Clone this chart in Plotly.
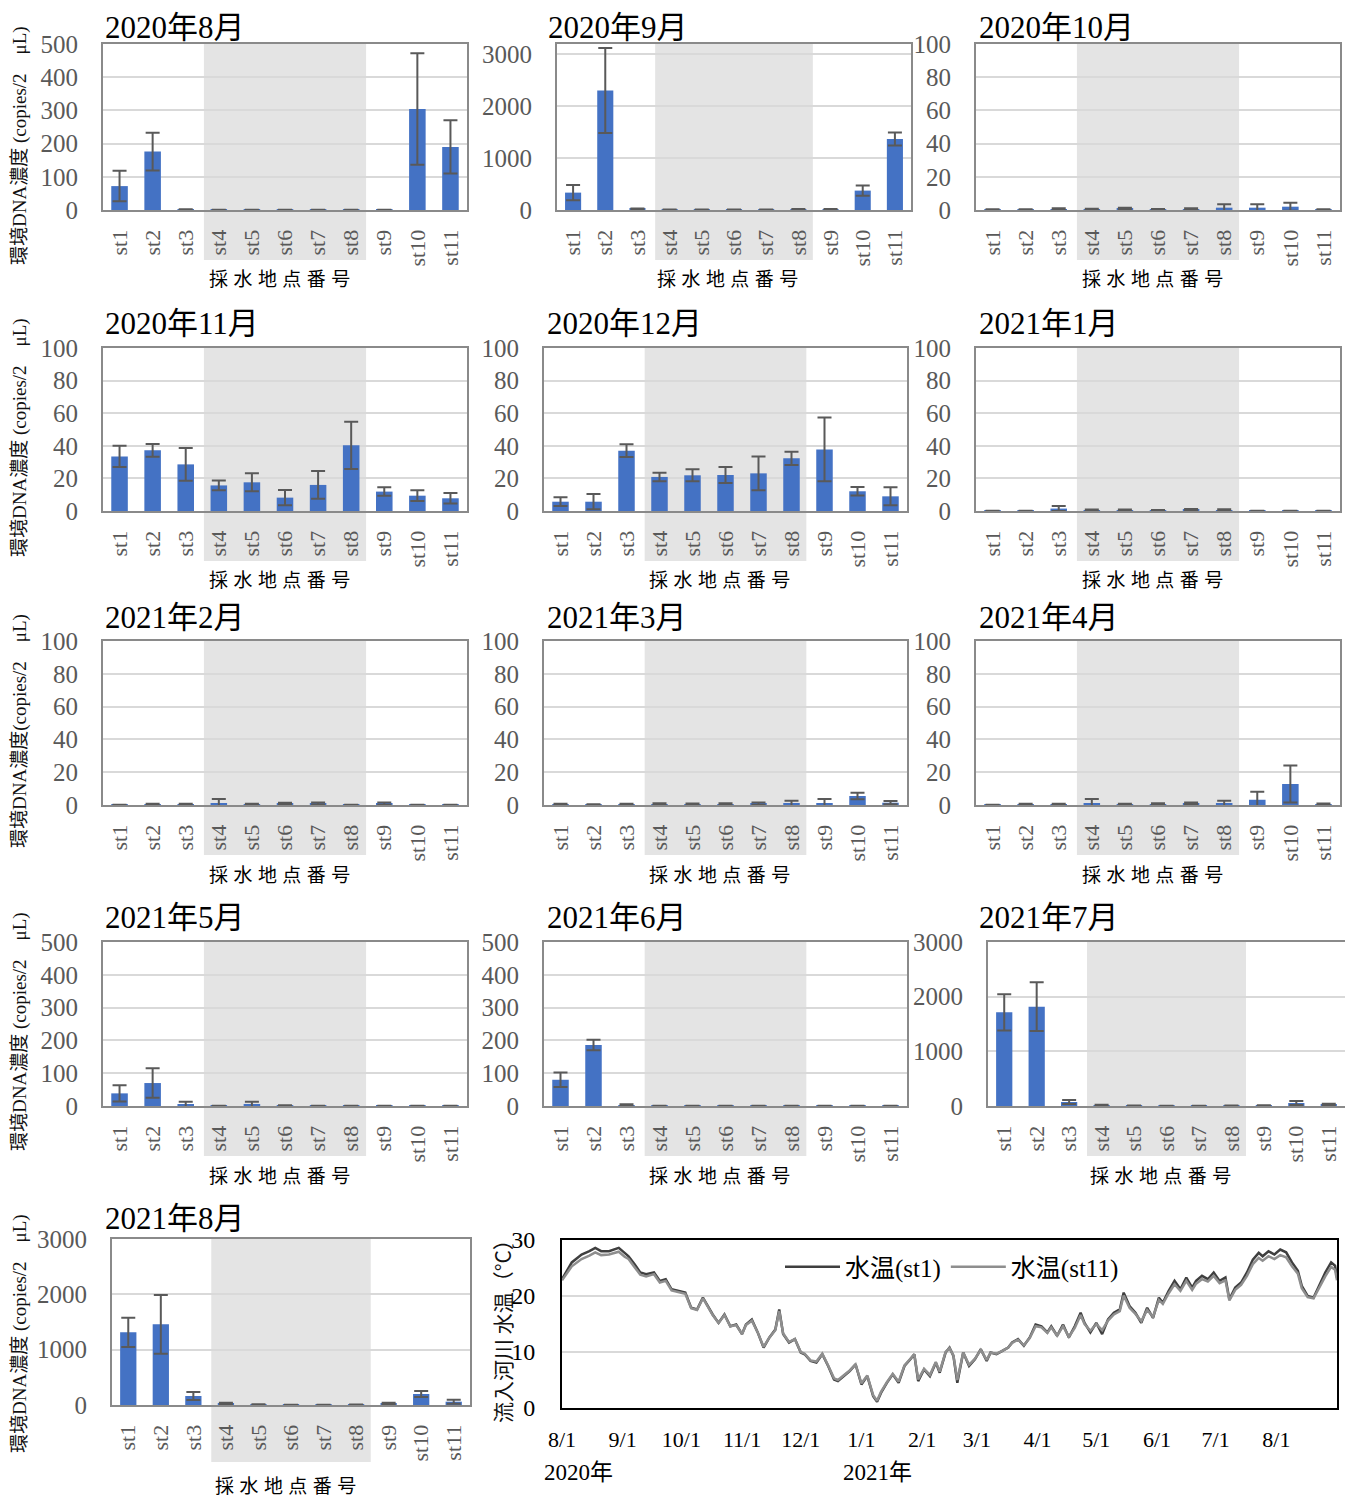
import plotly.graph_objects as go

# page body keeps its default 8px margin, so the figure is sized to fill the rest of the window
PAGE_W, PAGE_H, BODY = 1353, 1497, 8
W, H = PAGE_W - BODY, PAGE_H - BODY

# ---------------- data ----------------
stations = ["st1", "st2", "st3", "st4", "st5", "st6", "st7", "st8", "st9", "st10", "st11"]

month_titles = ["2020年8月", "2020年9月", "2020年10月", "2020年11月", "2020年12月", "2021年1月",
                "2021年2月", "2021年3月", "2021年4月", "2021年5月", "2021年6月", "2021年7月", "2021年8月"]

aug2020 = [72, 176, 1, 0.5, 0.5, 0.3, 0.3, 0.3, 0.5, 304, 190]
aug2020_err = [46, 57, 1, 0.5, 0.5, 0.3, 0.3, 0.3, 0.5, 168, 80]
sep2020 = [335, 2303, 20, 5, 5, 5, 5, 15, 15, 374, 1368]
sep2020_err = [145, 820, 8, 3, 3, 3, 3, 6, 6, 98, 125]
oct2020 = [0.2, 0.2, 0.6, 0.4, 0.8, 0.3, 0.5, 1.4, 1.4, 2.0, 0.2]
oct2020_err = [0.2, 0.3, 0.5, 0.4, 0.6, 0.3, 0.5, 2.0, 2.0, 2.4, 0.2]
nov2020 = [33.5, 37.2, 28.6, 15.7, 17.6, 8.2, 16.0, 40.3, 11.9, 9.4, 7.8]
nov2020_err = [6.5, 3.9, 10.0, 3.0, 5.5, 4.7, 8.5, 14.5, 2.6, 3.3, 3.2]
dec2020 = [5.7, 5.7, 37.0, 20.9, 21.9, 22.1, 23.1, 32.3, 37.8, 12.1, 9.0]
dec2020_err = [2.7, 4.7, 3.9, 2.6, 3.7, 4.9, 10.4, 4.1, 19.5, 2.6, 5.5]
jan2021 = [0.1, 0.1, 1.5, 0.5, 0.5, 0.3, 0.7, 0.6, 0.1, 0.1, 0.1]
jan2021_err = [0.1, 0.1, 1.5, 0.4, 0.4, 0.3, 0.5, 0.5, 0.1, 0.1, 0.1]
feb2021 = [0.1, 0.4, 0.4, 1.2, 0.4, 0.7, 0.9, 0.1, 0.8, 0.1, 0.1]
feb2021_err = [0.1, 0.4, 0.4, 2.4, 0.4, 0.6, 0.7, 0.1, 0.8, 0.1, 0.1]
mar2021 = [0.4, 0.2, 0.4, 0.6, 0.5, 0.6, 0.8, 0.8, 1.2, 5.5, 1.4]
mar2021_err = [0.3, 0.2, 0.4, 0.5, 0.4, 0.5, 0.8, 1.8, 2.4, 2.0, 1.0]
apr2021 = [0.1, 0.4, 0.4, 1.0, 0.4, 0.6, 1.0, 1.0, 3.2, 12.8, 0.5]
apr2021_err = [0.1, 0.3, 0.3, 2.6, 0.3, 0.5, 0.6, 1.6, 4.9, 11.3, 0.4]
may2021 = [38.5, 70, 5, 0.5, 5, 1, 0.5, 0.5, 0.5, 0.5, 0.5]
may2021_err = [25, 45, 8, 0.5, 8, 1, 0.5, 0.5, 0.5, 0.5, 0.5]
jun2021 = [80, 186, 3, 0.5, 0.5, 0.5, 0.5, 0.5, 0.5, 0.5, 0.5]
jun2021_err = [22, 16, 2, 0.5, 0.5, 0.5, 0.5, 0.5, 0.5, 0.5, 0.5]
jul2021 = [1713, 1817, 73, 15, 5, 3, 3, 5, 10, 55, 24]
jul2021_err = [330, 445, 37, 8, 3, 2, 2, 3, 5, 36, 19]
aug2021 = [1313, 1458, 163, 30, 10, 3, 3, 5, 30, 199, 60]
aug2021_err = [265, 530, 72, 10, 5, 2, 2, 3, 10, 54, 36]

ticks_500 = [0, 100, 200, 300, 400, 500]
ticks_100 = [0, 20, 40, 60, 80, 100]
ticks_3000 = [0, 1000, 2000, 3000]

temp_dates = [
    "2020-08-01", "2020-08-06", "2020-08-11", "2020-08-15", "2020-08-18", "2020-08-21", "2020-08-25", "2020-08-30",
    "2020-09-02", "2020-09-04", "2020-09-07", "2020-09-10", "2020-09-13", "2020-09-17", "2020-09-20", "2020-09-23",
    "2020-09-26", "2020-09-29", "2020-10-03", "2020-10-06", "2020-10-09", "2020-10-12", "2020-10-15", "2020-10-17",
    "2020-10-20", "2020-10-23", "2020-10-26", "2020-10-29", "2020-11-01", "2020-11-03", "2020-11-06", "2020-11-09",
    "2020-11-12", "2020-11-15", "2020-11-18", "2020-11-20", "2020-11-22", "2020-11-25", "2020-11-28", "2020-12-01",
    "2020-12-03", "2020-12-06", "2020-12-09", "2020-12-12", "2020-12-15", "2020-12-18", "2020-12-20", "2020-12-23",
    "2020-12-26", "2020-12-29", "2021-01-01", "2021-01-04", "2021-01-07", "2021-01-09", "2021-01-11", "2021-01-14",
    "2021-01-17", "2021-01-20", "2021-01-23", "2021-01-26", "2021-01-28", "2021-01-30", "2021-02-02", "2021-02-05",
    "2021-02-08", "2021-02-10", "2021-02-13", "2021-02-15", "2021-02-17", "2021-02-19", "2021-02-22", "2021-02-25",
    "2021-02-28", "2021-03-03", "2021-03-06", "2021-03-08", "2021-03-11", "2021-03-14", "2021-03-17", "2021-03-19",
    "2021-03-22", "2021-03-25", "2021-03-28", "2021-03-31", "2021-04-03", "2021-04-06", "2021-04-08", "2021-04-11",
    "2021-04-14", "2021-04-17", "2021-04-20", "2021-04-23", "2021-04-25", "2021-04-28", "2021-05-01", "2021-05-04",
    "2021-05-07", "2021-05-10", "2021-05-13", "2021-05-15", "2021-05-18", "2021-05-21", "2021-05-24", "2021-05-27",
    "2021-05-30", "2021-06-02", "2021-06-04", "2021-06-07", "2021-06-10", "2021-06-13", "2021-06-16", "2021-06-19",
    "2021-06-21", "2021-06-24", "2021-06-27", "2021-06-30", "2021-07-03", "2021-07-06", "2021-07-08", "2021-07-11",
    "2021-07-14", "2021-07-17", "2021-07-20", "2021-07-23", "2021-07-25", "2021-07-28", "2021-07-31", "2021-08-03",
    "2021-08-06", "2021-08-09", "2021-08-12", "2021-08-14", "2021-08-17", "2021-08-20", "2021-08-23", "2021-08-26",
    "2021-08-29", "2021-08-31", "2021-09-01",
]
temp_st1 = [
    23.0, 26.0, 27.4, 28.0, 28.6, 28.0, 28.0, 28.6,
    27.7, 27.1, 25.7, 24.2, 23.9, 24.2, 22.7, 23.0,
    21.2, 20.9, 20.6, 17.9, 17.6, 19.7, 17.9, 16.7,
    15.2, 16.7, 14.6, 14.9, 13.2, 14.9, 15.8, 13.5,
    10.8, 12.6, 14.0, 17.6, 13.2, 11.7, 12.3, 9.9,
    9.6, 8.4, 8.1, 9.6, 7.5, 5.1, 4.8, 5.7,
    6.6, 7.8, 4.2, 5.7, 2.1, 1.1, 2.7, 4.5,
    6.0, 4.5, 7.5, 8.7, 9.6, 4.8, 6.9, 5.7,
    8.1, 6.3, 9.9, 10.8, 9.3, 4.5, 9.9, 7.5,
    8.7, 10.5, 8.4, 9.9, 9.6, 10.2, 10.8, 11.7,
    12.3, 11.1, 12.6, 14.9, 14.6, 13.5, 14.6, 12.9,
    14.9, 12.6, 14.6, 17.0, 15.2, 13.5, 15.2, 13.2,
    15.8, 17.0, 17.6, 20.6, 18.2, 17.0, 15.2, 17.9,
    16.1, 19.7, 18.8, 20.9, 22.7, 21.2, 23.3, 21.5,
    22.7, 23.6, 23.0, 24.2, 22.7, 23.3, 19.4, 21.5,
    22.4, 24.2, 26.5, 27.7, 27.1, 28.0, 27.4, 28.3,
    27.8, 26.0, 24.5, 21.8, 20.0, 19.7, 22.1, 24.2,
    26.0, 25.4, 23.3,
]
temp_st11 = [
    22.8, 25.3, 26.6, 27.2, 27.8, 27.3, 27.4, 27.9,
    27.0, 26.6, 25.2, 23.8, 23.5, 23.9, 22.4, 22.7,
    21.0, 20.7, 20.4, 17.8, 17.5, 19.6, 17.8, 16.6,
    15.2, 16.6, 14.6, 14.8, 13.2, 14.8, 15.6, 13.5,
    10.9, 12.6, 13.9, 17.3, 13.3, 11.8, 12.3, 10.0,
    9.7, 8.5, 8.3, 9.7, 7.6, 5.3, 5.0, 5.8,
    6.7, 7.8, 4.4, 5.8, 2.3, 1.3, 2.9, 4.6,
    6.1, 4.7, 7.6, 8.8, 9.6, 5.1, 7.0, 5.9,
    8.2, 6.5, 10.0, 10.7, 9.4, 5.0, 9.9, 7.7,
    8.8, 10.4, 8.6, 9.9, 9.7, 10.2, 10.8, 11.6,
    12.2, 11.2, 12.5, 14.6, 14.4, 13.4, 14.4, 12.9,
    14.6, 12.7, 14.3, 16.6, 15.0, 13.8, 15.0, 13.9,
    15.6, 16.7, 17.3, 20.1, 17.9, 16.8, 15.5, 17.5,
    16.3, 19.3, 18.6, 20.5, 22.1, 20.9, 22.7, 21.1,
    22.2, 23.0, 22.6, 23.6, 22.3, 22.8, 19.2, 21.1,
    22.0, 23.6, 25.7, 26.8, 26.3, 27.1, 26.6, 27.3,
    26.9, 25.3, 24.0, 21.4, 19.8, 19.6, 21.6, 23.5,
    25.2, 24.7, 22.8,
]
temp_tick_dates = ["2020-08-01", "2020-09-01", "2020-10-01", "2020-11-01", "2020-12-01", "2021-01-01", "2021-02-01",
                   "2021-03-01", "2021-04-01", "2021-05-01", "2021-06-01", "2021-07-01", "2021-08-01"]
temp_tick_labels = ["8/1", "9/1", "10/1", "11/1", "12/1", "1/1", "2/1", "3/1", "4/1", "5/1", "6/1", "7/1", "8/1"]
temp_ticks = [0, 10, 20, 30]

# ---------------- layout helpers ----------------
SERIF = "Liberation Serif, Noto Sans CJK JP, serif"
CJK = "Noto Sans CJK JP, sans-serif"
BAR_COLOR = "#4472C4"
GRID = "#d9d9d9"
BOX = "#8a8a8a"
TICKC = "#595959"
XTITLE = "採 \u200a水 \u200a地 \u200a点 \u200a番 \u200a号"


def fx(px):
    return (px - BODY) / W


def fy(px):
    return 1 - (px - BODY) / H


panels = [
    dict(v=aug2020, e=aug2020_err, ymax=500, tv=ticks_500, box=(103, 44, 467, 210), title=(103, 27)),
    dict(v=sep2020, e=sep2020_err, ymax=3200, tv=ticks_3000, box=(557, 44, 911, 210), title=(546, 27)),
    dict(v=oct2020, e=oct2020_err, ymax=100, tv=ticks_100, box=(976, 44, 1340, 210), title=(977, 27)),
    dict(v=nov2020, e=nov2020_err, ymax=100, tv=ticks_100, box=(103, 348, 467, 511), title=(103, 323)),
    dict(v=dec2020, e=dec2020_err, ymax=100, tv=ticks_100, box=(544, 348, 907, 511), title=(545, 323)),
    dict(v=jan2021, e=jan2021_err, ymax=100, tv=ticks_100, box=(976, 348, 1340, 511), title=(977, 323)),
    dict(v=feb2021, e=feb2021_err, ymax=100, tv=ticks_100, box=(103, 641, 467, 805), title=(103, 617)),
    dict(v=mar2021, e=mar2021_err, ymax=100, tv=ticks_100, box=(544, 641, 907, 805), title=(545, 617)),
    dict(v=apr2021, e=apr2021_err, ymax=100, tv=ticks_100, box=(976, 641, 1340, 805), title=(977, 617)),
    dict(v=may2021, e=may2021_err, ymax=500, tv=ticks_500, box=(103, 942, 467, 1106), title=(103, 917)),
    dict(v=jun2021, e=jun2021_err, ymax=500, tv=ticks_500, box=(544, 942, 907, 1106), title=(545, 917)),
    dict(v=jul2021, e=jul2021_err, ymax=3000, tv=ticks_3000, box=(988, 942, 1345, 1106), title=(977, 917)),
    dict(v=aug2021, e=aug2021_err, ymax=3000, tv=ticks_3000, box=(112, 1239, 470, 1405), title=(103, 1218)),
]

ylabel_rows = [(146, "環境DNA濃度 (copies/2\u3000μL)"), (438, "環境DNA濃度 (copies/2\u3000μL)"),
               (731, "環境DNA濃度(copies/2\u3000μL)"), (1032, "環境DNA濃度 (copies/2\u3000μL)"),
               (1334, "環境DNA濃度 (copies/2\u3000μL)")]

fig = go.Figure()
layout = {}
shapes = []
annotations = []
n_cat = len(stations)

for i, p in enumerate(panels, start=1):
    l, t, r, b = p["box"]
    xa = "x" if i == 1 else f"x{i}"
    ya = "y" if i == 1 else f"y{i}"
    xk = "xaxis" if i == 1 else f"xaxis{i}"
    yk = "yaxis" if i == 1 else f"yaxis{i}"
    fig.add_trace(go.Bar(
        x=stations, y=p["v"],
        error_y=dict(type="data", array=p["e"], visible=True, color="#595959", thickness=2, width=7),
        marker=dict(color=BAR_COLOR, line=dict(width=0)), width=0.5,
        xaxis=xa, yaxis=ya, showlegend=False, hoverinfo="skip",
    ))
    layout[xk] = dict(
        domain=[fx(l), fx(r)], anchor=ya, type="category", range=[-0.5, n_cat - 0.5],
        tickangle=-90, tickfont=dict(family=SERIF, size=22, color=TICKC),
        showline=True, mirror=True, linecolor=BOX, linewidth=2, showgrid=False,
        ticks="", ticklabelstandoff=9, fixedrange=True, automargin=False,
    )
    layout[yk] = dict(
        domain=[fy(b), fy(t)], anchor=xa, range=[0, p["ymax"]], tickvals=p["tv"],
        showgrid=True, gridcolor=GRID, gridwidth=2, showline=True, mirror=True,
        linecolor=BOX, linewidth=2, zeroline=False,
        tickfont=dict(family=SERIF, size=25, color=TICKC), ticks="", ticklabelstandoff=18,
        fixedrange=True, automargin=False,
    )
    # shaded station band st4-st8
    ext = 57 if i == 13 else 50
    shapes.append(dict(
        type="rect", xref=f"{xa} domain", yref=f"{ya} domain",
        x0=(2.55 + 0.5) / n_cat, x1=(7.45 + 0.5) / n_cat,
        y0=-ext / (b - t), y1=1, fillcolor="#e4e4e4", line=dict(width=0), layer="below",
    ))
    # panel title
    tx, ty = p["title"]
    annotations.append(dict(
        text=month_titles[i - 1], x=fx(tx), y=fy(ty), xref="paper", yref="paper",
        xanchor="left", yanchor="middle", showarrow=False,
        font=dict(family=SERIF, size=31, color="#000000"),
    ))
    # x-axis title
    off = 79 if i == 13 else 68
    annotations.append(dict(
        text=XTITLE, x=fx((l + r) / 2 - 6), y=fy(b + off), xref="paper", yref="paper",
        xanchor="center", yanchor="middle", showarrow=False,
        font=dict(family=CJK, size=19, color="#000000"),
    ))

for yc, txt in ylabel_rows:
    annotations.append(dict(
        text=txt, x=fx(20), y=fy(yc), xref="paper", yref="paper", textangle=-90,
        xanchor="center", yanchor="middle", showarrow=False,
        font=dict(family=SERIF, size=19, color="#111111"),
    ))

# ---------------- water temperature chart ----------------
L, T, R, B = 562, 1240, 1337, 1408
fig.add_trace(go.Scatter(x=temp_dates, y=temp_st1, mode="lines", name="水温(st1)",
                         line=dict(color="#3f3f3f", width=2.5), xaxis="x14", yaxis="y14"))
fig.add_trace(go.Scatter(x=temp_dates, y=temp_st11, mode="lines", name="水温(st11)",
                         line=dict(color="#8e8e8e", width=2.5), xaxis="x14", yaxis="y14"))
layout["xaxis14"] = dict(
    domain=[fx(L), fx(R)], anchor="y14", type="date", range=["2020-08-01", "2021-09-01"],
    tickvals=temp_tick_dates, ticktext=temp_tick_labels, tickangle=0,
    tickfont=dict(family=SERIF, size=22, color="#000000"), showgrid=False,
    showline=True, mirror=True, linecolor="#000000", linewidth=2, ticks="", ticklabelstandoff=11,
    fixedrange=True, automargin=False,
)
layout["yaxis14"] = dict(
    domain=[fy(B), fy(T)], anchor="x14", range=[0, 30], tickvals=temp_ticks,
    showgrid=True, gridcolor=GRID, gridwidth=2, zeroline=False,
    showline=True, mirror=True, linecolor="#000000", linewidth=2,
    tickfont=dict(family=SERIF, size=24, color="#000000"), ticks="", ticklabelstandoff=20,
    fixedrange=True, automargin=False,
)
annotations.append(dict(text="2020年", x=fx(542), y=fy(1472), xref="paper", yref="paper",
                        xanchor="left", yanchor="middle", showarrow=False,
                        font=dict(family=SERIF, size=23, color="#000000")))
annotations.append(dict(text="2021年", x=fx(841), y=fy(1472), xref="paper", yref="paper",
                        xanchor="left", yanchor="middle", showarrow=False,
                        font=dict(family=SERIF, size=23, color="#000000")))
annotations.append(dict(text="流入河川 水温（°C）", x=fx(502), y=fy(1326), xref="paper", yref="paper",
                        textangle=-90, xanchor="center", yanchor="middle", showarrow=False,
                        font=dict(family=CJK, size=21, color="#111111")))

fig.update_layout(
    width=W, height=H, autosize=False,
    margin=dict(l=0, r=0, t=0, b=0, pad=0, autoexpand=False),
    paper_bgcolor="white", plot_bgcolor="white",
    showlegend=True,
    legend=dict(orientation="h", x=fx(780), y=fy(1267), xanchor="left", yanchor="middle",
                itemwidth=55, bgcolor="rgba(0,0,0,0)",
                font=dict(family=SERIF, size=25, color="#000000")),
    shapes=shapes, annotations=annotations, bargap=0.5,
    **layout,
)

fig.write_html("out.html", config={"displayModeBar": False})
